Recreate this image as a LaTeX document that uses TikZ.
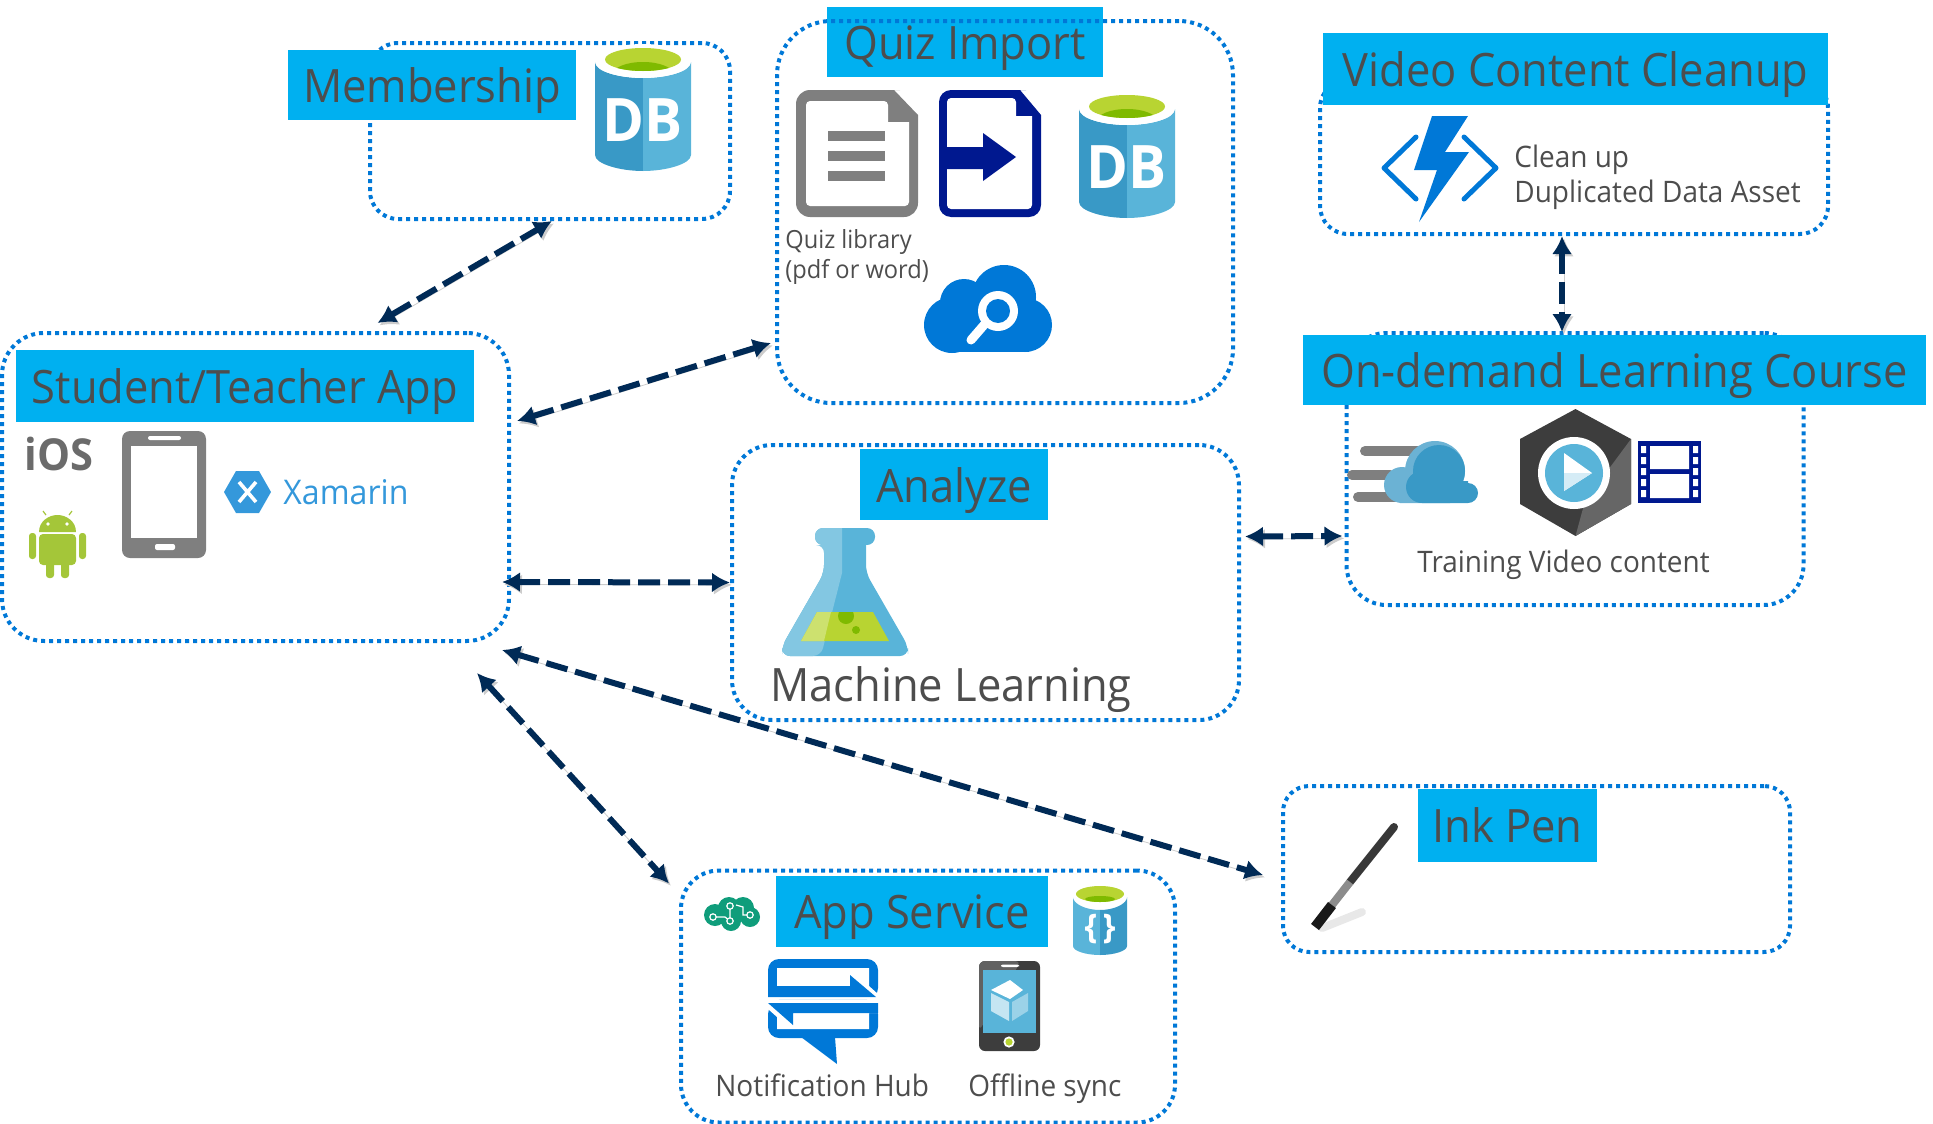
\documentclass[tikz,border=0pt]{standalone}
\usepackage{fontspec}
\setmainfont[FakeStretch=0.945]{Open Sans}
\usetikzlibrary{arrows.meta,positioning}
\usepackage{xcolor}
\definecolor{dotblue}{RGB}{0,120,215}
\definecolor{titleblue}{RGB}{0,176,240}
\definecolor{textgrey}{RGB}{77,77,77}
\definecolor{arrownavy}{RGB}{0,42,86}
\definecolor{dbdark}{RGB}{57,153,198}
\definecolor{dblight}{RGB}{89,180,217}
\definecolor{limelight}{RGB}{184,212,50}
\definecolor{limedark}{RGB}{127,186,0}
\definecolor{icongrey}{RGB}{127,127,127}
\definecolor{importblue}{RGB}{0,24,143}
\definecolor{xamblue}{RGB}{52,152,219}
\definecolor{droidgreen}{RGB}{164,198,57}
\definecolor{braingreen}{RGB}{15,157,123}

\tikzset{
  dbicon/.pic={
    \fill[dbdark] (0,14) -- (0,107) .. controls (0,116) and (25,123) .. (48,123) -- (48,30) .. controls (25,30) and (0,24) .. (0,14) -- cycle;
    \fill[dblight] (96,14) -- (96,107) .. controls (96,116) and (71,123) .. (48,123) -- (48,30) .. controls (71,30) and (96,24) .. (96,14) -- cycle;
    \fill[white] (48,13) ellipse [x radius=48, y radius=17];
    \fill[limelight] (48,11.5) ellipse [x radius=38, y radius=11.5];
    \begin{scope}
      \clip (48,11.5) ellipse [x radius=38, y radius=11.5];
      \fill[limedark] (48,26) ellipse [x radius=30, y radius=12];
    \end{scope}
    \node[text=white, font=\fontsize{30}{32}\selectfont\bfseries] (-label) at (48,72) {DB};
  }
}

\begin{document}
\begin{tikzpicture}[
  x=0.5pt, y=-0.5pt,
  zone/.style={rectangle, draw=dotblue, line width=2pt, dash pattern=on 2pt off 2pt},
  titlebox/.style={rectangle, fill=titleblue, text=textgrey, inner sep=0pt, text height=21pt, text depth=3.5pt, font=\fontsize{23}{26}\selectfont},
  txt/.style={anchor=base west, inner sep=0pt, text=textgrey, font=\fontsize{14.8}{16}\selectfont},
  arr/.style={{Latex[length=9pt,width=10pt]}-{Latex[length=9pt,width=10pt]}, draw=arrownavy, line width=3pt, dash pattern=on 11pt off 4pt,
    preaction={draw=black!20, transform canvas={xshift=1pt,yshift=-1.2pt}}}
]
\useasboundingbox (0,0) rectangle (1933,1124);

% zones
\node[zone, rounded corners=14pt, minimum width=180pt, minimum height=88pt] (member) at (550,131) {};
\node[zone, rounded corners=21pt, minimum width=253.5pt, minimum height=154pt] (student) at (255.5,487) {};
\node[zone, rounded corners=20pt, minimum width=253.5pt, minimum height=137.5pt] (analyze) at (985.5,582.5) {};
\node[zone, rounded corners=14pt, minimum width=254pt, minimum height=77pt] (cleanup) at (1574,157) {};
\node[zone, rounded corners=20pt, minimum width=228.5pt, minimum height=136pt] (course) at (1575,469) {};
\node[zone, rounded corners=13pt, minimum width=253.5pt, minimum height=83pt] (ink) at (1536.5,869) {};
\node[zone, rounded corners=19pt, minimum width=247pt, minimum height=126pt] (appsvc) at (928,996.5) {};

% titles
\node[titlebox, minimum width=144pt, minimum height=35pt] (membertitle) at (432,85) {Membership};
\node[titlebox, minimum width=138pt, minimum height=35pt] (quiztitle) at (965,42) {Quiz Import};
\node[titlebox, minimum width=229pt, minimum height=36pt] (studenttitle) at (245,386) {Student/Teacher App};
\node[titlebox, minimum width=94pt, minimum height=35.5pt] (analyzetitle) at (954,484.5) {Analyze};
\node[titlebox, minimum width=252.5pt, minimum height=36pt] (cleanuptitle) at (1575.5,69) {Video Content Cleanup};
\node[titlebox, minimum width=311.5pt, minimum height=35pt] (coursetitle) at (1614.5,370) {On-demand Learning Course};
\node[titlebox, minimum width=89.5pt, minimum height=36.5pt] (inktitle) at (1507.5,825) {Ink Pen};
\node[titlebox, minimum width=136pt, minimum height=35.5pt] (apptitle) at (912,911) {App Service};

% drawn after its title, the dots run across it
\node[zone, rounded corners=27pt, minimum width=228pt, minimum height=191pt] (quiz) at (1005,212) {};

% membership
\pic (memberdb) at (595,48) {dbicon};

% quiz icons
\begin{scope}[shift={(796,90)}]
  \fill[icongrey, rounded corners=7pt] (0,127) -- (0,0) -- (90,0) [sharp corners] -- (98,0) -- (122,25) [rounded corners=7pt] -- (122,127) -- cycle;
  \fill[white, rounded corners=2pt] (10,116) -- (10,11) -- (92,11) [sharp corners] -- (92,32) -- (113,32) [rounded corners=2pt] -- (113,116) -- cycle;
  \foreach \ya in {41,61,81}
    \fill[icongrey] (32,\ya) rectangle (89,\ya+10);
\end{scope}
\begin{scope}[shift={(939,90)}]
  \fill[importblue, rounded corners=6pt] (0,127) -- (0,0) -- (75,0) [sharp corners] -- (81,0) -- (102,25) [rounded corners=6pt] -- (102,127) -- cycle;
  \fill[white, rounded corners=2pt] (8,119) -- (8,8) -- (77,8) [sharp corners] -- (77,26) -- (93,26) [rounded corners=2pt] -- (93,119) -- cycle;
  \fill[importblue] (0,57) -- (44,57) -- (44,43) -- (77,67) -- (44,91) -- (44,79) -- (0,79) -- cycle;
\end{scope}
\pic (quizdb) at (1079,95) {dbicon};
\begin{scope}[shift={(924,265)}]
  \fill[dotblue] (28,60) circle (14pt) (101,60) circle (13.5pt) (40,38) circle (12pt) (80,32) circle (16pt);
  \fill[dotblue] (25,55) rectangle (105,87);
  \fill[white] (74,46) circle (10pt);
  \fill[dotblue] (74,46) circle (6pt);
  \draw[white, line width=4.5pt, line cap=round] (60,60) -- (47,75);
\end{scope}
\node[txt, font=\fontsize{12.5}{14}\selectfont] (quizlib) at (785,248) {Quiz library};
\node[txt, font=\fontsize{12.5}{14}\selectfont] (quizfmt) at (785,278) {(pdf or word)};

% student icons
\node[anchor=base west, inner sep=0pt, text=black!58, font=\fontsize{22}{24}\selectfont\bfseries] (ioslabel) at (24,470) {iOS};
\begin{scope}[shift={(29,511)}]
  \draw[droidgreen, line width=0.6pt] (17,4) -- (14,0) (40,4) -- (43,0);
  \fill[droidgreen] (10,21) .. controls (10,10) and (20,4) .. (28.5,4) .. controls (37,4) and (47,10) .. (47,21) -- cycle;
  \fill[droidgreen, rounded corners=2pt] (10,23) rectangle (47,54);
  \fill[droidgreen, rounded corners=1.5pt] (0,22) rectangle (7,48) (50,22) rectangle (57,48) (17,50) rectangle (25,67) (32,50) rectangle (40,67);
  \fill[white] (19,13) circle (0.9pt) (38,13) circle (0.9pt);
\end{scope}
\fill[icongrey, rounded corners=4pt] (122,431) rectangle (206,558);
\fill[white] (131,446) rectangle (197,538);
\fill[white, rounded corners=1pt] (148,436) rectangle (181,440) (155,544) rectangle (175,550);
\fill[xamblue] (224,492) -- (236,471) -- (259,471) -- (271,492) -- (259,513) -- (236,513) -- cycle;
\draw[white, line width=1.8pt] (239,482) -- (256,502) (256,482) -- (239,502);
\node[txt, text=xamblue, font=\fontsize{17}{18}\selectfont] (xamlabel) at (283,504) {Xamarin};

% flask
\begin{scope}[shift={(782,528)}]
  \fill[dblight, rounded corners=4pt] (33,0) rectangle (93,17);
  \fill[dblight, rounded corners=4pt] (42,10) -- (84,10) -- (84,45) -- (126,118) -- (126,128) -- (0,128) -- (0,118) -- (42,45) -- cycle;
  \fill[dblight!75!white, rounded corners=4pt] (60,0) -- (33,0) -- (33,17) -- (42,17) -- (42,45) -- (0,118) -- (0,128) -- (39,128) [sharp corners] -- (60,45) -- cycle;
  \fill[limelight] (35,84) -- (91,84) -- (107,113) -- (19,113) -- cycle;
  \fill[limelight!70!white] (35,84) -- (49,84) -- (42,113) -- (19,113) -- cycle;
  \begin{scope}
    \clip (35,84) rectangle (91,113);
    \fill[limedark] (64,88) circle (4pt);
  \end{scope}
  \fill[limedark] (74,102) circle (2pt);
\end{scope}
\node[txt, font=\fontsize{23}{26}\selectfont] (mllabel) at (770,701) {Machine Learning};

% cleanup
\begin{scope}[shift={(1382,116)}]
  \draw[dotblue, line width=2.5pt, line cap=round, line join=round] (34,21) -- (2,52) -- (34,83) (82,21) -- (114,52) -- (82,83);
  \fill[white] (50,-2) -- (90,-2) -- (67,36) -- (91,36) -- (35,110) -- (50,56) -- (28,56) -- cycle;
  \fill[dotblue] (50,0) -- (86,0) -- (63,36) -- (87,36) -- (37,106) -- (55,54) -- (32,54) -- cycle;
\end{scope}
\node[txt] (cleanone) at (1514,167) {Clean up};
\node[txt] (cleantwo) at (1514,202) {Duplicated Data Asset};

% course
\begin{scope}[shift={(1350,441)}]
  \draw[icongrey, line width=5pt, line cap=round] (15,10) -- (72,10) (2,34) -- (40,34) (8,56) -- (50,56);
  \fill[dbdark!75!white] (52,44) circle (9pt) (85,30) circle (15pt) (50,40) rectangle (100,62);
  \fill[dbdark] (89,30) circle (13pt) (118,52) circle (5pt) (72,46) circle (8pt) (72,40) rectangle (118,62);
\end{scope}
\begin{scope}[shift={(1520,409)}]
  \fill[black!76] (55.5,0) -- (111,30) -- (111,95) -- (55.5,127) -- (0,95) -- (0,30) -- cycle;
  \fill[black!60] (111,30) -- (111,95) -- (55.5,127) -- (65,92) -- cycle;
  \fill[white] (54,64) circle (18pt);
  \fill[dblight] (54,64) circle (14.5pt);
  \fill[white] (44,44) -- (72,64) -- (44,82) -- cycle;
  \fill[dblight!25!white] (44,64) -- (72,64) -- (44,82) -- cycle;
\end{scope}
\begin{scope}[shift={(1638,441)}]
  \fill[importblue] (0,0) rectangle (63,62);
  \fill[white] (12,5) rectangle (51,28) (12,33) rectangle (51,57);
  \foreach \yb in {5,16,27,38,49}
    \fill[white] (3,\yb) rectangle (8,\yb+7) (55,\yb) rectangle (60,\yb+7);
\end{scope}
\node[txt] (trainlabel) at (1417,572) {Training Video content};

% pen
\draw[black!9, line width=4pt, line cap=round] (1322,928) -- (1362,912);
\draw[black!78, line width=4pt, line cap=round] (1394,827) -- (1350,882);
\draw[black!45, line width=4pt] (1350,882) -- (1332,905);
\draw[black!90, line width=5pt] (1332,905) -- (1315,927);

% app service
\begin{scope}[shift={(703,897)}]
  \fill[braingreen] (12,18) circle (5.5pt) (26,11) circle (5.5pt) (40,11) circle (5.5pt) (47,20) circle (5pt) (28,24) circle (5pt);
  \draw[white, line width=0.6pt] (13,20) -- (22,20) -- (27,24) (27,12) -- (27,21) (33,8) -- (40,10) -- (40,18) -- (45,18);
  \filldraw[fill=braingreen, draw=white, line width=0.6pt] (10,20) circle (1.6pt) (27,24) circle (1.6pt) (27,9) circle (1.6pt) (47,18) circle (1.6pt);
\end{scope}
\begin{scope}[shift={(1073,886)}]
  \fill[dblight] (0,11) -- (0,60) .. controls (0,65) and (13,69) .. (27,69) -- (27,24) .. controls (13,24) and (0,18) .. (0,11) -- cycle;
  \fill[dbdark] (54,11) -- (54,60) .. controls (54,65) and (41,69) .. (27,69) -- (27,24) .. controls (41,24) and (54,18) .. (54,11) -- cycle;
  \fill[white] (27,10) ellipse [x radius=27, y radius=12];
  \fill[limelight] (27,8) ellipse [x radius=24, y radius=8];
  \fill[limedark] (27,13) ellipse [x radius=15, y radius=3];
  \node[text=white, font=\fontsize{17}{18}\selectfont\bfseries] (bracelabel) at (27,43) {\{\,\}};
\end{scope}
\begin{scope}[shift={(768,959)}]
  \fill[dotblue, rounded corners=5.5pt] (0,40) -- (0,0) -- (110,0) -- (110,40) -- cycle;
  \fill[white] (9,9) -- (101,9) -- (101,27) -- (110,35) -- (110,40) -- (0,40) -- (9,27) -- cycle;
  \fill[dotblue] (0,27) -- (82,27) -- (82,16) -- (108,38) -- (0,38) -- cycle;
  \fill[dotblue, rounded corners=5.5pt] (0,44) -- (110,44) -- (110,79) -- (0,79) -- cycle;
  \fill[dotblue] (33,78) -- (69,105) -- (67,78) -- cycle;
  \fill[white] (0,43) -- (0,50) -- (9,58) -- (9,70) -- (101,70) -- (101,54) -- (110,54) -- (110,43) -- cycle;
  \fill[dotblue] (110,44) -- (110,54) -- (25,54) -- (25,66) -- (0,44) -- cycle;
\end{scope}
\begin{scope}[shift={(979,961)}]
  \fill[black!76, rounded corners=3pt] (0,0) rectangle (61,90);
  \fill[black!62, rounded corners=3pt] (0,0) -- (42,0) -- (0,70) -- cycle;
  \fill[dblight] (4,9) rectangle (57,72);
  \fill[white] (31,19) -- (44,29) -- (31,38) -- (12,29) -- cycle;
  \fill[dblight!35!white] (12,32) -- (30,41) -- (30,60) -- (12,50) -- cycle;
  \fill[dblight!60!white] (33,41) -- (49,32) -- (49,50) -- (33,60) -- cycle;
  \fill[white, rounded corners=1pt] (22,3.5) rectangle (40,6);
  \fill[white] (30,81) circle (2.8pt);
  \fill[limelight] (30,81) circle (1.8pt);
\end{scope}
\node[txt] (notelabel) at (715,1096) {Notification Hub};
\node[txt] (synclabel) at (968,1096) {Offline sync};

% connectors
\draw[arr] ([xshift=61pt,yshift=4pt]student.north) -- ([xshift=1pt]member.south);
\draw[arr] ([xshift=3pt,yshift=33pt]student.east) -- ([xshift=-2pt,yshift=-65.5pt]quiz.west);
\draw[arr] ([xshift=-4.5pt,yshift=-47.5pt]student.east) -- (analyze.west);
\draw[arr] ([xshift=2pt,yshift=23pt]analyze.east) -- ([xshift=-1pt,yshift=-33.5pt]course.west);
\draw[arr] ([xshift=-6pt]cleanup.south) -- ([xshift=-6.5pt,yshift=-0.5pt]course.north);
\draw[arr] ([xshift=-4.5pt,yshift=-3.5pt]student.south east) -- ([xshift=-9pt,yshift=-3pt]ink.west);
\draw[arr] ([xshift=-17pt,yshift=-15pt]student.south east) -- ([xshift=-5pt,yshift=-7.5pt]appsvc.north west);
\end{tikzpicture}
\end{document}
